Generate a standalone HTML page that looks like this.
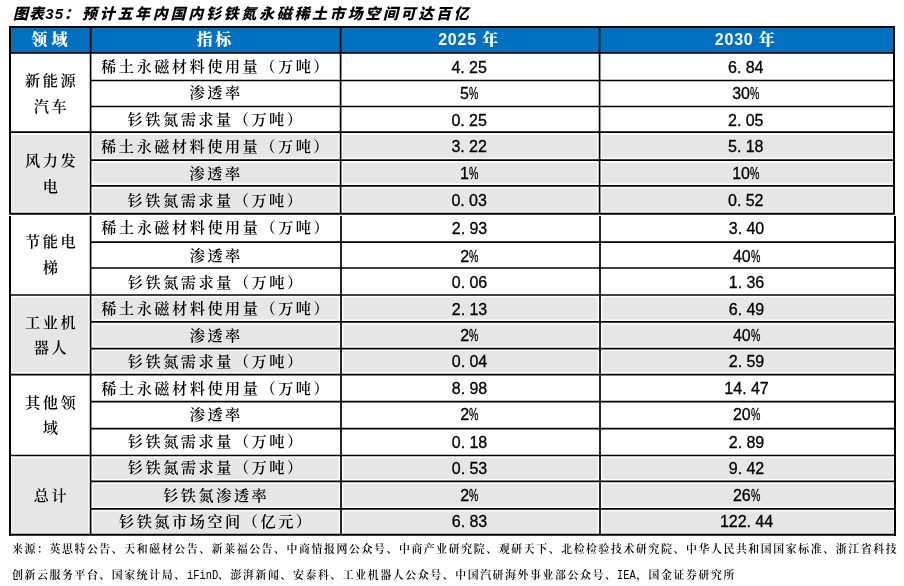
<!DOCTYPE html>
<html lang="zh-CN"><head><meta charset="utf-8"><title>图表35</title><style>
html,body{margin:0;padding:0;background:#fff;}
body{width:904px;height:586px;overflow:hidden;position:relative;}
.c{position:absolute;display:flex;align-items:center;justify-content:center;text-align:center;white-space:nowrap;color:#000;}
.h{color:#fff;font-family:"Liberation Sans","Noto Serif CJK SC",serif;font-weight:900;font-size:16px;letter-spacing:0.8px;padding-bottom:3px;box-sizing:border-box;}
.l{font-family:"Liberation Serif","Noto Serif CJK SC",serif;font-size:15.2px;font-weight:600;letter-spacing:2.4px;line-height:26.3px;padding-left:2.4px;padding-top:3.4px;box-sizing:border-box;}
.k{font-family:"Liberation Serif","Noto Serif CJK SC",serif;font-size:15.2px;font-weight:600;letter-spacing:2.5px;padding-left:2.5px;padding-bottom:2px;box-sizing:border-box;}
.n{font-family:"Liberation Sans",sans-serif;font-size:16px;padding-top:2.2px;box-sizing:border-box;-webkit-text-stroke:0.3px #000;}
.p{display:inline-block;transform:scaleX(.66);transform-origin:0 50%;margin-right:-4.8px;}
.g{display:inline-block;width:4.3px;}
.title{position:absolute;top:2px;font-family:"Liberation Sans","Noto Sans CJK SC",sans-serif;font-weight:900;font-style:italic;font-size:15px;white-space:nowrap;letter-spacing:2.7px;}
.src{position:absolute;left:12px;font-family:"Noto Serif CJK SC",serif;font-size:10.9px;white-space:nowrap;letter-spacing:1.59px;font-weight:600;}
.m{display:inline-block;font-family:"Liberation Mono",monospace;font-size:12.4px;letter-spacing:0;font-weight:normal;transform:scaleX(.84);transform-origin:0 0;}
</style></head><body>
<svg width="904" height="586" style="position:absolute;left:0;top:0"><rect x="10" y="27" width="884" height="25.8" fill="#0070c0"/><rect x="11.4" y="134.6" width="76.8" height="76.8" fill="#e6e6e6"/><rect x="93" y="134.6" width="245.2" height="23.2" fill="#e6e6e6"/><rect x="343" y="134.6" width="254.2" height="23.2" fill="#e6e6e6"/><rect x="602" y="134.6" width="290.6" height="23.2" fill="#e6e6e6"/><rect x="93" y="162.6" width="245.2" height="20.85" fill="#e6e6e6"/><rect x="343" y="162.6" width="254.2" height="20.85" fill="#e6e6e6"/><rect x="602" y="162.6" width="290.6" height="20.85" fill="#e6e6e6"/><rect x="93" y="188.25" width="245.2" height="23.15" fill="#e6e6e6"/><rect x="343" y="188.25" width="254.2" height="23.15" fill="#e6e6e6"/><rect x="602" y="188.25" width="290.6" height="23.15" fill="#e6e6e6"/><rect x="11.4" y="297.4" width="76.8" height="74.9" fill="#e6e6e6"/><rect x="93" y="297.4" width="245.6" height="22.1" fill="#e6e6e6"/><rect x="343.4" y="297.4" width="254.2" height="22.1" fill="#e6e6e6"/><rect x="602.4" y="297.4" width="291.2" height="22.1" fill="#e6e6e6"/><rect x="93" y="324.3" width="245.6" height="22" fill="#e6e6e6"/><rect x="343.4" y="324.3" width="254.2" height="22" fill="#e6e6e6"/><rect x="602.4" y="324.3" width="291.2" height="22" fill="#e6e6e6"/><rect x="93" y="351.1" width="245.6" height="21.2" fill="#e6e6e6"/><rect x="343.4" y="351.1" width="254.2" height="21.2" fill="#e6e6e6"/><rect x="602.4" y="351.1" width="291.2" height="21.2" fill="#e6e6e6"/><rect x="11.4" y="457.9" width="76.8" height="75.5" fill="#e6e6e6"/><rect x="93" y="457.9" width="245.6" height="21" fill="#e6e6e6"/><rect x="343.4" y="457.9" width="254.2" height="21" fill="#e6e6e6"/><rect x="602.4" y="457.9" width="291.2" height="21" fill="#e6e6e6"/><rect x="93" y="483.7" width="245.6" height="22.8" fill="#e6e6e6"/><rect x="343.4" y="483.7" width="254.2" height="22.8" fill="#e6e6e6"/><rect x="602.4" y="483.7" width="291.2" height="22.8" fill="#e6e6e6"/><rect x="93" y="511.3" width="245.6" height="22.1" fill="#e6e6e6"/><rect x="343.4" y="511.3" width="254.2" height="22.1" fill="#e6e6e6"/><rect x="602.4" y="511.3" width="291.2" height="22.1" fill="#e6e6e6"/><line x1="9" x2="895" y1="27" y2="27" stroke="#000" stroke-width="2.0"/><line x1="10" x2="894" y1="52.8" y2="52.8" stroke="#000" stroke-width="1.7"/><line x1="90.6" x2="894" y1="80.5" y2="80.5" stroke="#000" stroke-width="1.7"/><line x1="90.6" x2="894" y1="106.5" y2="106.5" stroke="#000" stroke-width="1.7"/><line x1="10" x2="894" y1="132.2" y2="132.2" stroke="#000" stroke-width="1.7"/><line x1="90.6" x2="894" y1="160.2" y2="160.2" stroke="#000" stroke-width="1.7"/><line x1="90.6" x2="894" y1="185.85" y2="185.85" stroke="#000" stroke-width="1.7"/><line x1="9" x2="895" y1="213.8" y2="213.8" stroke="#000" stroke-width="2.0"/><line x1="90.6" x2="895" y1="242.1" y2="242.1" stroke="#000" stroke-width="1.7"/><line x1="90.6" x2="895" y1="268" y2="268" stroke="#000" stroke-width="1.7"/><line x1="10" x2="895" y1="295" y2="295" stroke="#000" stroke-width="1.7"/><line x1="90.6" x2="895" y1="321.9" y2="321.9" stroke="#000" stroke-width="1.7"/><line x1="90.6" x2="895" y1="348.7" y2="348.7" stroke="#000" stroke-width="1.7"/><line x1="10" x2="895" y1="374.7" y2="374.7" stroke="#000" stroke-width="1.7"/><line x1="90.6" x2="895" y1="401.7" y2="401.7" stroke="#000" stroke-width="1.7"/><line x1="90.6" x2="895" y1="428.65" y2="428.65" stroke="#000" stroke-width="1.7"/><line x1="10" x2="895" y1="455.5" y2="455.5" stroke="#000" stroke-width="1.7"/><line x1="90.6" x2="895" y1="481.3" y2="481.3" stroke="#000" stroke-width="1.7"/><line x1="90.6" x2="895" y1="508.9" y2="508.9" stroke="#000" stroke-width="1.7"/><line x1="9" x2="896" y1="534.8" y2="534.8" stroke="#000" stroke-width="2.0"/><line x1="10" x2="10" y1="26" y2="213.8" stroke="#000" stroke-width="2.0"/><line x1="10" x2="10" y1="216.1" y2="535.8" stroke="#000" stroke-width="2.0"/><line x1="90.6" x2="90.6" y1="27" y2="213.8" stroke="#000" stroke-width="1.7"/><line x1="90.6" x2="90.6" y1="216.1" y2="534.8" stroke="#000" stroke-width="1.7"/><line x1="340.6" x2="340.6" y1="27" y2="213.8" stroke="#000" stroke-width="1.7"/><line x1="341" x2="341" y1="216.1" y2="534.8" stroke="#000" stroke-width="1.7"/><line x1="599.6" x2="599.6" y1="27" y2="213.8" stroke="#000" stroke-width="1.7"/><line x1="600" x2="600" y1="216.1" y2="534.8" stroke="#000" stroke-width="1.7"/><line x1="894" x2="894" y1="26" y2="213.8" stroke="#000" stroke-width="2.0"/><line x1="895" x2="895" y1="216.1" y2="535.8" stroke="#000" stroke-width="2.0"/></svg>
<div class="title" style="left:13px;letter-spacing:1.1px">图表35：</div><div class="title" style="left:82px">预计五年内国内钐铁氮永磁稀土市场空间可达百亿</div>
<div class="c h" style="left:10.0px;top:27.0px;width:80.6px;height:25.8px"><span style="letter-spacing:4.3px;padding-left:4.3px;position:relative;left:-0.9px">领域</span></div><div class="c h" style="left:90.6px;top:27.0px;width:250.0px;height:25.8px"><span style="letter-spacing:2.7px;padding-left:2.7px;position:relative;left:-1.7px">指标</span></div><div class="c h" style="left:340.6px;top:27.0px;width:259.0px;height:25.8px"><span style="position:relative;left:-1.5px">2025 年</span></div><div class="c h" style="left:599.6px;top:27.0px;width:294.4px;height:25.8px"><span style="position:relative;left:-1.6px">2030 年</span></div><div class="c k" style="left:10.0px;top:67.0px;width:80.6px;height:26.0px">新能源</div><div class="c k" style="left:10.0px;top:93.3px;width:80.6px;height:26.0px">汽车</div><div class="c k" style="left:89.8px;top:53.0px;width:250.0px;height:27.7px">稀土永磁材料使用量（万吨）</div><div class="c n" style="left:339.6px;top:53.0px;width:259.0px;height:27.7px">4.<span class="g"></span>25</div><div class="c n" style="left:598.6px;top:53.0px;width:294.4px;height:27.7px">6.<span class="g"></span>84</div><div class="c k" style="left:89.8px;top:79.5px;width:250.0px;height:26.0px">渗透率</div><div class="c n" style="left:339.6px;top:79.5px;width:259.0px;height:26.0px">5<span class="p">%</span></div><div class="c n" style="left:598.6px;top:79.5px;width:294.4px;height:26.0px">30<span class="p">%</span></div><div class="c k" style="left:89.8px;top:106.9px;width:250.0px;height:25.7px">钐铁氮需求量（万吨）</div><div class="c n" style="left:339.6px;top:106.9px;width:259.0px;height:25.7px">0.<span class="g"></span>25</div><div class="c n" style="left:598.6px;top:106.9px;width:294.4px;height:25.7px">2.<span class="g"></span>05</div><div class="c k" style="left:10.0px;top:147.0px;width:80.6px;height:26.0px">风力发</div><div class="c k" style="left:10.0px;top:173.6px;width:80.6px;height:26.0px">电</div><div class="c k" style="left:89.8px;top:132.3px;width:250.0px;height:28.0px">稀土永磁材料使用量（万吨）</div><div class="c n" style="left:339.6px;top:132.3px;width:259.0px;height:28.0px">3.<span class="g"></span>22</div><div class="c n" style="left:598.6px;top:132.3px;width:294.4px;height:28.0px">5.<span class="g"></span>18</div><div class="c k" style="left:89.8px;top:160.5px;width:250.0px;height:25.7px">渗透率</div><div class="c n" style="left:339.6px;top:160.5px;width:259.0px;height:25.7px">1<span class="p">%</span></div><div class="c n" style="left:598.6px;top:160.5px;width:294.4px;height:25.7px">10<span class="p">%</span></div><div class="c k" style="left:89.8px;top:186.2px;width:250.0px;height:28.0px">钐铁氮需求量（万吨）</div><div class="c n" style="left:339.6px;top:186.2px;width:259.0px;height:28.0px">0.<span class="g"></span>03</div><div class="c n" style="left:598.6px;top:186.2px;width:294.4px;height:28.0px">0.<span class="g"></span>52</div><div class="c k" style="left:10.0px;top:228.1px;width:80.6px;height:26.0px">节能电</div><div class="c k" style="left:10.0px;top:254.2px;width:80.6px;height:26.0px">梯</div><div class="c k" style="left:89.8px;top:213.5px;width:250.4px;height:28.3px">稀土永磁材料使用量（万吨）</div><div class="c n" style="left:340.0px;top:213.5px;width:259.0px;height:28.3px">2.<span class="g"></span>93</div><div class="c n" style="left:599.0px;top:213.5px;width:295.0px;height:28.3px">3.<span class="g"></span>40</div><div class="c k" style="left:89.8px;top:242.7px;width:250.4px;height:25.9px">渗透率</div><div class="c n" style="left:340.0px;top:242.7px;width:259.0px;height:25.9px">2<span class="p">%</span></div><div class="c n" style="left:599.0px;top:242.7px;width:295.0px;height:25.9px">40<span class="p">%</span></div><div class="c k" style="left:89.8px;top:268.8px;width:250.4px;height:27.0px">钐铁氮需求量（万吨）</div><div class="c n" style="left:340.0px;top:268.8px;width:259.0px;height:27.0px">0.<span class="g"></span>06</div><div class="c n" style="left:599.0px;top:268.8px;width:295.0px;height:27.0px">1.<span class="g"></span>36</div><div class="c k" style="left:10.0px;top:309.5px;width:80.6px;height:26.0px">工业机</div><div class="c k" style="left:10.0px;top:334.6px;width:80.6px;height:26.0px">器人</div><div class="c k" style="left:89.8px;top:295.4px;width:250.4px;height:26.9px">稀土永磁材料使用量（万吨）</div><div class="c n" style="left:340.0px;top:295.4px;width:259.0px;height:26.9px">2.<span class="g"></span>13</div><div class="c n" style="left:599.0px;top:295.4px;width:295.0px;height:26.9px">6.<span class="g"></span>49</div><div class="c k" style="left:89.8px;top:321.7px;width:250.4px;height:26.8px">渗透率</div><div class="c n" style="left:340.0px;top:321.7px;width:259.0px;height:26.8px">2<span class="p">%</span></div><div class="c n" style="left:599.0px;top:321.7px;width:295.0px;height:26.8px">40<span class="p">%</span></div><div class="c k" style="left:89.8px;top:348.4px;width:250.4px;height:26.0px">钐铁氮需求量（万吨）</div><div class="c n" style="left:340.0px;top:348.4px;width:259.0px;height:26.0px">0.<span class="g"></span>04</div><div class="c n" style="left:599.0px;top:348.4px;width:295.0px;height:26.0px">2.<span class="g"></span>59</div><div class="c k" style="left:10.0px;top:389.3px;width:80.6px;height:26.0px">其他领</div><div class="c k" style="left:10.0px;top:414.1px;width:80.6px;height:26.0px">域</div><div class="c k" style="left:89.8px;top:374.9px;width:250.4px;height:27.0px">稀土永磁材料使用量（万吨）</div><div class="c n" style="left:340.0px;top:374.9px;width:259.0px;height:27.0px">8.<span class="g"></span>98</div><div class="c n" style="left:599.0px;top:374.9px;width:295.0px;height:27.0px">14.<span class="g"></span>47</div><div class="c k" style="left:89.8px;top:400.8px;width:250.4px;height:26.9px">渗透率</div><div class="c n" style="left:340.0px;top:400.8px;width:259.0px;height:26.9px">2<span class="p">%</span></div><div class="c n" style="left:599.0px;top:400.8px;width:295.0px;height:26.9px">20<span class="p">%</span></div><div class="c k" style="left:89.8px;top:428.1px;width:250.4px;height:26.9px">钐铁氮需求量（万吨）</div><div class="c n" style="left:340.0px;top:428.1px;width:259.0px;height:26.9px">0.<span class="g"></span>18</div><div class="c n" style="left:599.0px;top:428.1px;width:295.0px;height:26.9px">2.<span class="g"></span>89</div><div class="c k" style="left:10.0px;top:482.0px;width:80.6px;height:26.0px">总计</div><div class="c k" style="left:89.8px;top:454.6px;width:250.4px;height:25.8px">钐铁氮需求量（万吨）</div><div class="c n" style="left:340.0px;top:454.6px;width:259.0px;height:25.8px">0.<span class="g"></span>53</div><div class="c n" style="left:599.0px;top:454.6px;width:295.0px;height:25.8px">9.<span class="g"></span>42</div><div class="c k" style="left:89.8px;top:481.6px;width:250.4px;height:27.6px">钐铁氮渗透率</div><div class="c n" style="left:340.0px;top:481.6px;width:259.0px;height:27.6px">2<span class="p">%</span></div><div class="c n" style="left:599.0px;top:481.6px;width:295.0px;height:27.6px">26<span class="p">%</span></div><div class="c k" style="left:89.8px;top:508.4px;width:250.4px;height:25.9px">钐铁氮市场空间（亿元）</div><div class="c n" style="left:340.0px;top:508.4px;width:259.0px;height:25.9px">6.<span class="g"></span>83</div><div class="c n" style="left:599.0px;top:508.4px;width:295.0px;height:25.9px">122.<span class="g"></span>44</div>
<div class="src" style="top:540px">来源：英思特公告、天和磁材公告、新莱福公告、中商情报网公众号、中商产业研究院、观研天下、北检检验技术研究院、中华人民共和国国家标准、浙江省科技</div>
<div class="src" style="top:566px">创新云服务平台、国家统计局、<span class="m" style="margin-right:-5.9px">iFinD</span>、澎湃新闻、安泰科、工业机器人公众号、中国汽研海外事业部公众号、<span class="m" style="margin-right:-3.6px">IEA</span>，国金证券研究所</div>
</body></html>
